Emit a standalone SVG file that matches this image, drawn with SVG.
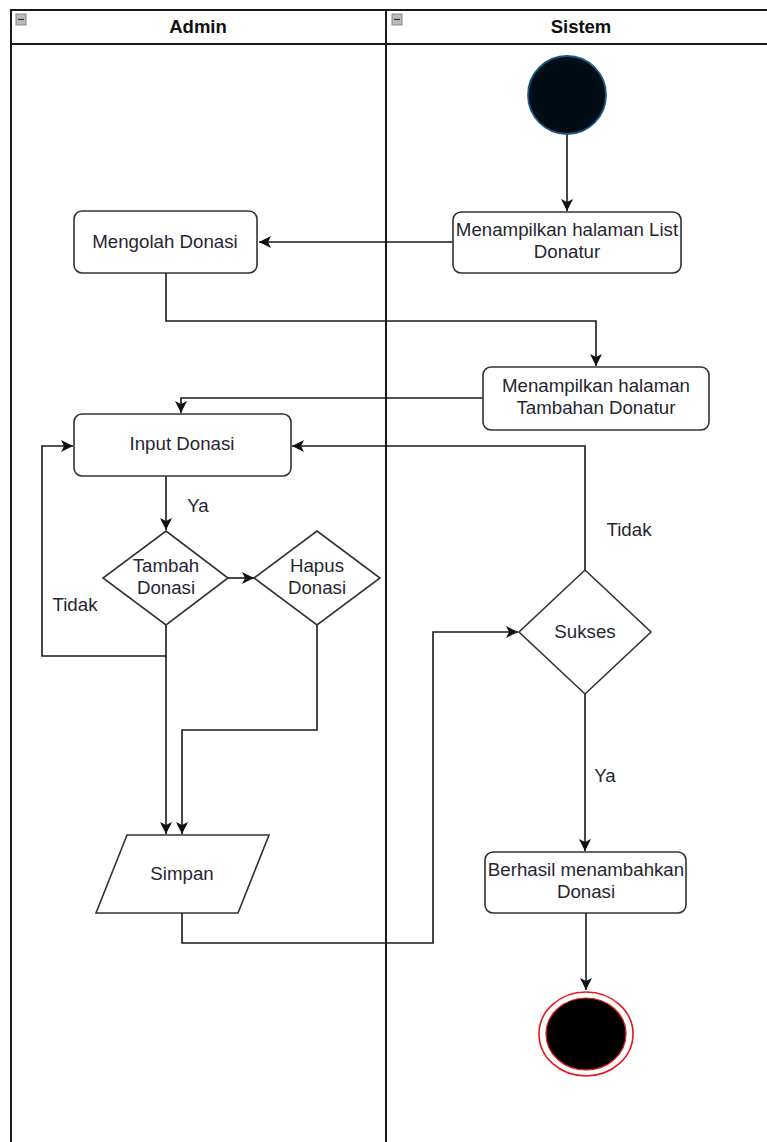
<svg xmlns="http://www.w3.org/2000/svg" width="767" height="1142" viewBox="0 0 767 1142">
<style>
.lane{fill:none;stroke:#1a1a1a;stroke-width:2}
.box{fill:#fff;stroke:#333;stroke-width:1.6}
.t{font-family:"Liberation Sans",Arial,sans-serif;font-size:18.7px;fill:#262633;text-anchor:middle}
.h{font-family:"Liberation Sans",Arial,sans-serif;font-size:18.5px;font-weight:bold;fill:#111;text-anchor:middle}
.c{fill:none;stroke:#1a1a1a;stroke-width:1.6}
</style>
<defs>
<marker id="ar" markerWidth="14" markerHeight="12" refX="12" refY="6" orient="auto" markerUnits="userSpaceOnUse">
<path d="M0,0 L12,6 L0,12 L3,6 Z" fill="#111"/>
</marker>
</defs>
<rect x="0" y="0" width="767" height="1142" fill="#fff"/>
<g id="lanes">
<path class="lane" d="M11,1142 V10 H767 M11,44 H767 M386,10 V1142"/>
<rect x="16" y="14" width="10" height="11" fill="#bbb" stroke="#888" stroke-width="1"/>
<line x1="18" y1="19.5" x2="24" y2="19.5" stroke="#333" stroke-width="1.2"/>
<rect x="392" y="14" width="10" height="11" fill="#bbb" stroke="#888" stroke-width="1"/>
<line x1="394" y1="19.5" x2="400" y2="19.5" stroke="#333" stroke-width="1.2"/>
<text class="h" x="198" y="33">Admin</text>
<text class="h" x="581" y="33">Sistem</text>
</g>
<g id="connectors">
<path class="c" d="M567,134 V211" marker-end="url(#ar)"/>
<path class="c" d="M453,242 H259" marker-end="url(#ar)"/>
<path class="c" d="M166,273 V321 H596 V366" marker-end="url(#ar)"/>
<path class="c" d="M483,398 H181 V413" marker-end="url(#ar)"/>
<path class="c" d="M166,476 V530" marker-end="url(#ar)"/>
<path class="c" d="M228,578 H254" marker-end="url(#ar)"/>
<path class="c" d="M166,625 V656 H42 V446 H73" marker-end="url(#ar)"/>
<path class="c" d="M166,656 V834" marker-end="url(#ar)"/>
<path class="c" d="M317,625 V730 H182 V834" marker-end="url(#ar)"/>
<path class="c" d="M182,913 V943 H433 V632 H518" marker-end="url(#ar)"/>
<path class="c" d="M585,570 V446 H292" marker-end="url(#ar)"/>
<path class="c" d="M585,694 V851" marker-end="url(#ar)"/>
<path class="c" d="M586,913 V990" marker-end="url(#ar)"/>
<text class="t" x="198" y="512">Ya</text>
<text class="t" x="75" y="611">Tidak</text>
<text class="t" x="629" y="536">Tidak</text>
<text class="t" x="605" y="782">Ya</text>
</g>
<g id="start">
<circle cx="567" cy="95" r="39" fill="#020c14" stroke="#1b5a86" stroke-width="1.8"/>
</g>
<g id="list">
<rect class="box" x="453" y="212" width="228" height="61" rx="8"/>
<text class="t" x="567" y="236">Menampilkan halaman List</text>
<text class="t" x="567" y="258">Donatur</text>
</g>
<g id="mengolah">
<rect class="box" x="74" y="211" width="183" height="62" rx="8"/>
<text class="t" x="165" y="248">Mengolah Donasi</text>
</g>
<g id="tambahan">
<rect class="box" x="483" y="367" width="226" height="63" rx="8"/>
<text class="t" x="596" y="392">Menampilkan halaman</text>
<text class="t" x="596" y="414">Tambahan Donatur</text>
</g>
<g id="input">
<rect class="box" x="74" y="414" width="217" height="62" rx="8"/>
<text class="t" x="182" y="450">Input Donasi</text>
</g>
<g id="tambah">
<polygon class="box" points="166,531 228,578 166,625 103,578"/>
<text class="t" x="166" y="572">Tambah</text>
<text class="t" x="166" y="594">Donasi</text>
</g>
<g id="hapus">
<polygon class="box" points="317,531 380,578 317,625 254,578"/>
<text class="t" x="317" y="572">Hapus</text>
<text class="t" x="317" y="594">Donasi</text>
</g>
<g id="simpan">
<polygon class="box" points="127,835 269,835 238,913 96,913"/>
<text class="t" x="182" y="880">Simpan</text>
</g>
<g id="sukses">
<polygon class="box" points="585,570 651,632 585,694 519,632"/>
<text class="t" x="585" y="638">Sukses</text>
</g>
<g id="berhasil">
<rect class="box" x="485" y="852" width="201" height="61" rx="8"/>
<text class="t" x="586" y="876">Berhasil menambahkan</text>
<text class="t" x="586" y="898">Donasi</text>
</g>
<g id="end">
<ellipse cx="586" cy="1034" rx="47" ry="42" fill="#fff" stroke="#e8161b" stroke-width="1.6"/>
<ellipse cx="586" cy="1034" rx="40" ry="36" fill="#000" stroke="#e8161b" stroke-width="1.2"/>
</g>
</svg>
